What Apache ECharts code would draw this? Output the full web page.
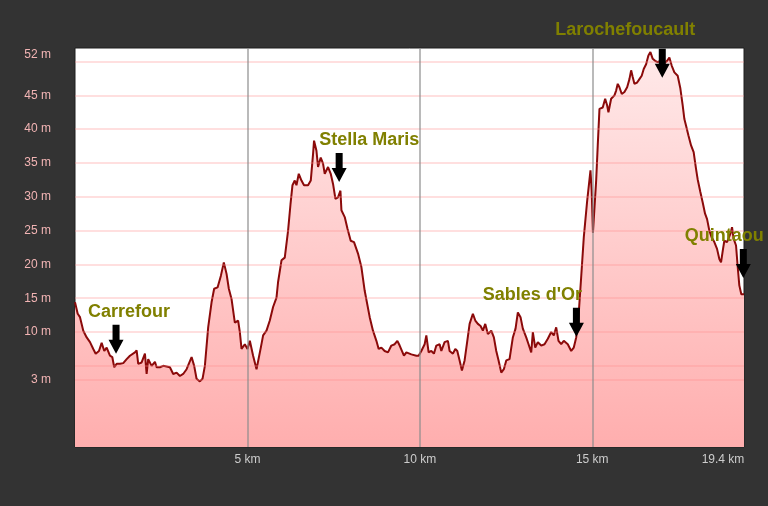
<!DOCTYPE html>
<html>
<head>
<meta charset="utf-8">
<script src="https://cdn.jsdelivr.net/npm/echarts@6/dist/echarts.min.js"></script>
<style>
html,body{margin:0;padding:0;background:#333333;}
#chart{width:768px;height:506px;}
</style>
</head>
<body>
<div id="chart"></div>
<script>
// Distance along the route (km)
const kmData = [
0.000,0.078,0.145,0.240,0.339,0.435,0.530,0.600,0.695,0.773,0.849,0.918,1.014,1.081,1.138,1.208,1.304,1.399,1.498,1.593,
1.738,1.787,1.834,1.932,2.028,2.077,2.123,2.222,2.318,2.367,2.462,2.558,2.752,2.848,2.946,3.042,3.137,3.236,3.381,3.456,
3.525,3.621,3.699,3.766,3.862,3.960,4.035,4.134,4.229,4.316,4.395,4.461,4.539,4.635,4.731,4.780,4.829,4.925,5.003,5.070,
5.165,5.264,5.310,5.388,5.455,5.553,5.649,5.744,5.843,5.889,5.988,6.083,6.179,6.249,6.306,6.373,6.422,6.489,6.567,6.642,
6.758,6.837,6.903,6.932,7.002,7.048,7.126,7.193,7.242,7.338,7.416,7.483,7.552,7.627,7.697,7.726,7.822,7.900,7.995,8.091,
8.207,8.305,8.401,8.546,8.641,8.740,8.806,8.885,8.980,9.076,9.174,9.270,9.348,9.415,9.464,9.539,9.609,9.655,9.754,9.899,
9.965,10.043,10.139,10.188,10.255,10.333,10.408,10.478,10.574,10.623,10.718,10.814,10.863,10.959,11.028,11.086,11.153,11.220,11.298,11.376,
11.443,11.538,11.608,11.683,11.761,11.828,11.897,11.973,12.071,12.147,12.216,12.283,12.361,12.436,12.506,12.601,12.697,12.775,12.842,12.920,
12.987,13.085,13.152,13.230,13.277,13.346,13.421,13.520,13.615,13.711,13.809,13.885,13.954,14.021,14.099,14.174,14.290,14.389,14.464,14.534,
14.600,14.678,14.754,14.852,14.948,14.983,15.020,15.113,15.159,15.209,15.304,15.374,15.432,15.469,15.547,15.643,15.692,15.739,15.788,15.855,
15.933,16.011,16.078,16.127,16.173,16.222,16.301,16.367,16.434,16.492,16.561,16.628,16.686,16.753,16.822,16.897,16.976,17.042,17.170,17.236,
17.303,17.381,17.477,17.555,17.622,17.671,17.720,17.787,17.865,17.940,18.010,18.056,18.134,18.201,18.271,18.329,18.395,18.462,18.540,18.618,
18.685,18.734,18.792,18.830,18.908,19.004,19.053,19.099,19.169,19.215,19.264,19.322,19.400
];
// Elevation (m)
const elevData = [
14.4,12.7,12.2,10.2,9.2,8.5,7.5,6.8,7.2,8.4,7.2,7.7,6.5,6.3,4.8,5.3,5.3,5.4,6.0,6.5,
7.0,7.3,5.3,5.5,6.8,3.8,6.0,5.0,5.6,4.8,4.8,5.0,4.8,3.8,4.0,3.5,3.8,4.5,6.3,5.0,
3.1,2.7,3.1,5.0,10.7,14.4,16.4,16.6,18.3,20.3,18.6,16.4,14.9,11.4,11.7,10.0,7.5,8.2,7.5,8.7,
6.5,4.5,4.5,7.7,9.5,10.2,11.7,13.7,15.1,17.4,20.6,21.0,25.0,28.9,31.7,32.4,31.7,33.4,32.4,31.7,
31.7,32.4,36.3,38.3,36.8,34.4,35.8,34.9,33.4,34.4,33.4,31.9,29.7,29.9,30.9,28.0,27.0,25.3,23.5,23.3,
21.6,19.6,16.1,12.2,10.2,8.7,7.5,7.7,7.2,7.0,8.0,8.2,8.7,8.0,8.2,6.5,7.0,7.2,6.7,6.5,
6.5,7.2,8.2,9.5,7.0,7.2,6.8,8.0,8.2,7.2,8.5,8.7,7.2,6.8,7.5,7.2,5.8,4.3,5.8,8.7,
11.2,12.7,11.7,11.2,10.9,10.2,11.2,9.7,10.2,9.2,7.2,5.8,4.0,4.5,5.8,6.0,9.2,10.5,12.9,12.2,
10.5,9.2,8.2,7.0,10.0,7.7,8.5,8.0,8.2,9.0,10.0,9.5,10.7,8.7,8.2,8.7,8.2,7.2,7.7,9.2,
12.2,18.1,24.0,29.4,33.9,30.9,24.7,32.4,37.6,43.0,43.2,44.5,43.5,42.5,44.5,45.0,45.7,46.7,46.2,45.2,
45.5,46.2,47.4,48.7,47.7,46.7,46.9,47.4,47.9,48.9,49.6,50.9,51.4,50.4,50.1,49.9,50.1,49.6,50.1,50.6,
49.4,48.4,47.9,46.0,43.5,41.5,40.5,39.1,37.6,36.6,34.1,32.6,30.7,29.2,27.5,26.7,25.0,24.0,23.3,22.3,
20.8,20.3,22.3,23.5,23.3,24.5,25.5,23.8,22.8,19.8,16.9,15.6,15.6
];
// Points of interest
const poiNames = ['Carrefour', 'Stella Maris', "Sables d'Or", 'Larochefoucault', 'Quintaou'];
const poiKm = [1.19, 7.66, 14.54, 17.03, 19.38];
const poiElev = [6.8, 32.2, 9.3, 47.6, 18.0];
// Axis ticks
const yTickValues = [3, 10, 15, 20, 25, 30, 35, 40, 45, 52];
const yGridValues = [3, 5, 10, 15, 20, 25, 30, 35, 40, 45, 50];
const xTickValues = [5, 10, 15, 19.4];
const xGridValues = [5, 10, 15];

// label layout (pixel offsets of the POI captions)
const poiLabelOffset = [[13, 0], [30, 0], [-44, 0], [-37, -6], [-19, 0]];

const profile = kmData.map((k, i) => [k, elevData[i]]);
const pois = poiNames.map((n, i) => ({
  name: n,
  value: [poiKm[i], poiElev[i]],
  label: { offset: poiLabelOffset[i] }
}));

const gridLines = yGridValues.map(v => ({
  yAxis: v,
  lineStyle: { color: 'rgba(255,140,140,0.28)', width: 2, type: 'solid' }
})).concat(xGridValues.map(v => ({
  xAxis: v,
  lineStyle: { color: 'rgba(140,140,140,0.6)', width: 2, type: 'solid' }
})));

const chart = echarts.init(document.getElementById('chart'), null, { renderer: 'canvas' });
chart.setOption({
  animation: false,
  backgroundColor: '#333333',
  grid: {
    left: 75, right: 24, top: 48, bottom: 59,
    show: true, backgroundColor: '#ffffff', borderColor: '#1e1e1e', borderWidth: 1
  },
  xAxis: {
    type: 'value', min: 0, max: 19.4,
    axisLine: { show: false }, axisTick: { show: false }, splitLine: { show: false },
    axisLabel: {
      customValues: xTickValues,
      color: '#cccccc', fontSize: 12, fontFamily: 'Liberation Sans, Arial, sans-serif', margin: 7,
      formatter: v => v === xTickValues[xTickValues.length - 1] ? '{r|' + v + ' km}' : v + ' km',
      rich: { r: { color: '#cccccc', fontSize: 12, fontFamily: 'Liberation Sans, Arial, sans-serif', padding: [0, 42, 0, 0] } }
    }
  },
  yAxis: {
    type: 'value', min: -7, max: 52,
    axisLine: { show: false }, axisTick: { show: false }, splitLine: { show: false },
    axisLabel: {
      customValues: yTickValues,
      color: '#f2b4b4', fontSize: 12, fontFamily: 'Liberation Sans, Arial, sans-serif', margin: 24,
      formatter: v => v === yTickValues[yTickValues.length - 1] ? '{t|' + v + ' m}' : v + ' m',
      rich: { t: { color: '#f2b4b4', fontSize: 12, fontFamily: 'Liberation Sans, Arial, sans-serif', padding: [14, 0, 0, 0] } }
    }
  },
  series: [
    {
      type: 'line',
      data: profile,
      showSymbol: false,
      symbol: 'none',
      lineStyle: { color: '#8b0a0a', width: 2 },
      areaStyle: {
        origin: 'start',
        color: new echarts.graphic.LinearGradient(0, 48, 0, 447, [
          { offset: 0, color: '#ffeaea' },
          { offset: 1, color: '#ffaeae' }
        ], true),
        opacity: 1
      },
      markLine: {
        silent: true,
        symbol: 'none',
        label: { show: false },
        animation: false,
        data: gridLines
      },
      z: 2
    },
    {
      type: 'scatter',
      data: pois,
      clip: false,
      symbol: 'path://M4,0L11,0L11,15L15,15L7.5,29L0,15L4,15Z',
      symbolSize: [15, 29],
      symbolOffset: [0, '-50%'],
      itemStyle: { color: '#000000', opacity: 1 },
      label: {
        show: true,
        position: 'top',
        distance: 4,
        formatter: p => p.name,
        color: '#808000',
        opacity: 1,
        fontWeight: 'bold',
        fontSize: 18,
        fontFamily: 'Liberation Sans, Arial, sans-serif'
      },
      z: 5
    }
  ]
});
</script>
</body>
</html>
